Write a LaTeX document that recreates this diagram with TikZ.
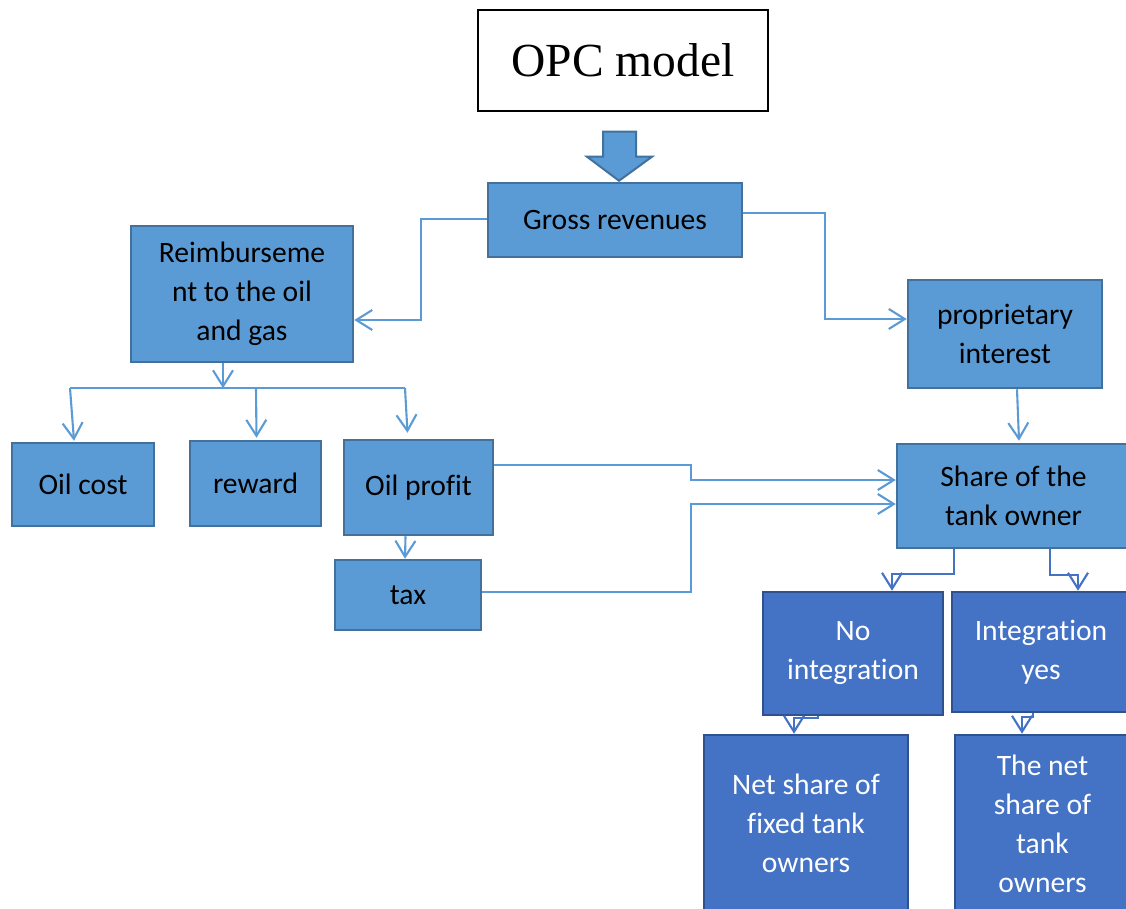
\documentclass[tikz,border=0pt]{standalone}
\usepackage{fontspec}
\setmainfont{Carlito}[Ligatures=NoCommon]
\newfontfamily\serifopc{Liberation Serif}
\usetikzlibrary{arrows.meta,calc}
\definecolor{lblue}{HTML}{5B9BD5}
\definecolor{lborder}{HTML}{41719C}
\definecolor{dblue}{HTML}{4472C4}
\definecolor{dborder}{HTML}{2F528F}
\begin{document}
\begin{tikzpicture}[x=1pt,y=-1pt,
  lbox/.style={draw=lborder, fill=lblue, line width=2.5pt, align=center, inner sep=0pt,
    font=\fontsize{29.6}{39}\selectfont, text=black},
  dbox/.style={draw=dborder, fill=dblue, line width=2.5pt, align=center, inner sep=0pt,
    font=\fontsize{29.6}{39}\selectfont, text=white},
  conn/.style={draw=lblue, line width=2.1pt, -{Straight Barb[length=16pt,width=20pt,line width=2.1pt]}},
  dconn/.style={draw=dblue, line width=2.1pt, -{Straight Barb[length=16pt,width=20pt,line width=2.1pt]}},
  bus/.style={draw=lblue, line width=1.6pt},
  bigarrow/.style={fill=lblue, draw=lborder, line width=2pt, line join=miter}]
\useasboundingbox (0,0) rectangle (1126,909);
\clip (0,0) rectangle (1126,909);

% nodes
\node[draw=black, fill=white, line width=1.2pt, minimum width=290, minimum height=101, inner sep=0pt,
  font=\serifopc\fontsize{47.5}{50}\selectfont] (opc) at (623,60.5) {OPC model};
\node[lbox, minimum width=254, minimum height=74] (gross) at (615,220) {Gross revenues};
\node[lbox, minimum width=222, minimum height=136] (reimb) at (242,294) {Reimburseme\\nt to the oil\\and gas};
\node[lbox, minimum width=194, minimum height=108] (prop) at (1005,334) {proprietary\\interest};
\node[lbox, minimum width=142, minimum height=83] (oilcost) at (83,484.5) {Oil cost};
\node[lbox, minimum width=131, minimum height=85] (reward) at (255.5,483.5) {reward};
\node[lbox, minimum width=149, minimum height=95] (oilprofit) at (418.5,487.5) {Oil profit};
\node[lbox, minimum width=146, minimum height=70] (tax) at (408,595) {tax};
\node[lbox, minimum width=233, minimum height=104] (share) at (1013.5,496) {Share of the\\tank owner};
\node[dbox, minimum width=180, minimum height=123] (noint) at (853,653.5) {No\\integration};
\node[dbox, minimum width=178, minimum height=120] (intyes) at (1041,652) {Integration\\yes};
\node[dbox, minimum width=204, minimum height=177] (netfixed) at (806,823.5) {Net share of\\fixed tank\\owners};
\node[dbox, minimum width=175, minimum height=177] (netyes) at (1042.5,823.5) {The net\\share of\\tank\\owners};

% block arrow from OPC model to Gross revenues
\draw[bigarrow] ($(gross.north)+(-12,-50)$) -- ++(33,0) -- ++(0,25) -- ++(16,0)
  -- ($(gross.north)+(4,-1)$) -- ($(gross.north)+(-28,-25)$) -- ++(16,0) -- cycle;

% connectors
\draw[conn] ($(gross.west)+(0,-1)$) -- ++(-66,0) |- ($(reimb.east)+(0,26)$);
\draw[conn] ($(gross.east)+(0,-7)$) -- ++(82,0) |- ($(prop.west)+(0,-15)$);
\draw[conn] ($(reimb.south)+(-19,0)$) -- ++(0,25);
\coordinate (busL) at (70,388);
\coordinate (busM) at (256,388);
\coordinate (busR) at (405,388);
\draw[bus] (busL) -- (busR);
\draw[conn] (busL) -- ($(oilcost.north)+(-9,-1)$);
\draw[conn] (busM) -- ($(reward.north)+(1,-2)$);
\draw[conn] (busR) -- ($(oilprofit.north)+(-11,-6)$);
\draw[conn] ($(oilprofit.south)+(-13,0)$) -- ($(tax.north)+(-3,0)$);
\draw[conn] ($(oilprofit.east)+(0,-22.5)$) -- ++(197,0) -- ++(0,15) -- ($(share.west)+(0,-16)$);
\draw[conn] ($(tax.east)+(0,-3)$) -- ++(209,0) |- ($(share.west)+(0,8)$);
\draw[conn] ($(prop.south)+(12,0)$) -- ($(share.north)+(5.5,-2)$);
\draw[dconn] ($(share.south)+(-59.5,0)$) -- ++(0,25) -| ($(noint.north)+(39,0)$);
\draw[dconn] ($(share.south)+(36.5,0)$) -- ++(0,26) -| ($(intyes.north)+(37,0)$);
\draw[dconn] ($(noint.south)+(-35,0)$) -- ++(0,1.5) -| ($(netfixed.north)+(-12,0)$);
\draw[dconn] ($(intyes.south)+(-8,0)$) -- ++(0,4) -| ($(netyes.north)+(-20.5,0)$);
\end{tikzpicture}
\end{document}
